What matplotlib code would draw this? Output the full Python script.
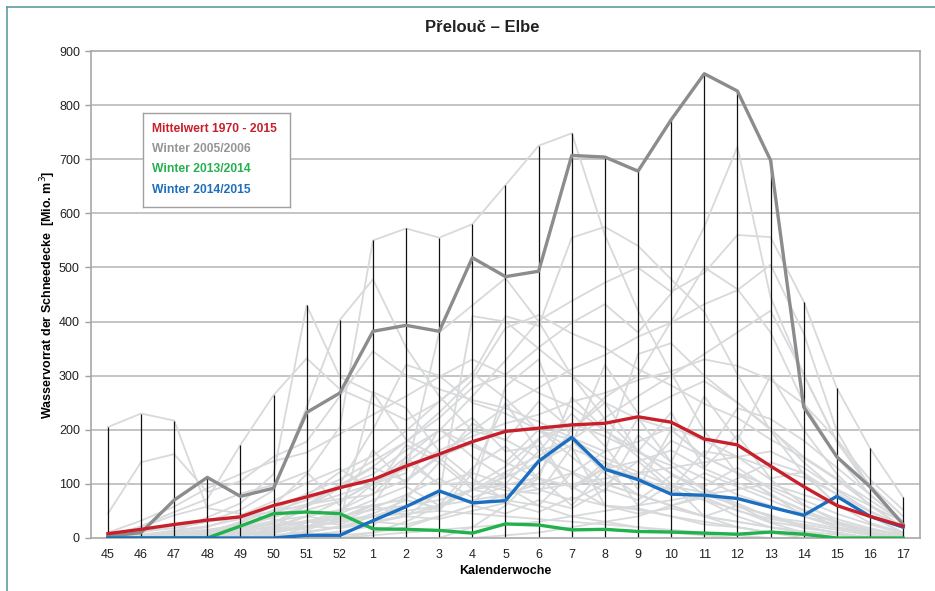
import numpy as np
import matplotlib
matplotlib.use("Agg")
import matplotlib.pyplot as plt
from matplotlib.lines import Line2D

plt.rcParams['font.family'] = ['Liberation Sans', 'DejaVu Sans']

weeks = ['45', '46', '47', '48', '49', '50', '51', '52', '1', '2', '3', '4', '5',
         '6', '7', '8', '9', '10', '11', '12', '13', '14', '15', '16', '17']

mean_1970_2015 = [8, 16, 25, 33, 39, 60, 76, 93, 108, 133, 155, 178, 197, 203, 209,
                  212, 224, 214, 183, 172, 133, 95, 60, 40, 22]
winter_2005_2006 = [3, 10, 70, 112, 77, 92, 232, 268, 382, 393, 382, 518, 483, 493, 707,
                    704, 678, 773, 858, 826, 698, 242, 150, 95, 25]
winter_2013_2014 = [0, 0, 0, 0, 22, 45, 48, 45, 17, 16, 14, 9, 26, 24, 15, 16, 12, 11,
                    9, 7, 11, 7, 0, 0, 0]
winter_2014_2015 = [0, 0, 0, 0, 0, 0, 5, 5, 32, 58, 87, 65, 69, 142, 186, 127, 108, 81,
                    79, 73, 57, 42, 77, 40, 20]

# other winters 1970 - 2015 (light grey background lines, estimated)
other_winters = [
    [205, 230, 217, 55, 45, 35, 20, 45, 70, 95, 60, 130, 170, 110, 95, 60, 55, 40, 25, 20, 10, 5, 0, 0, 0],
    [45, 140, 155, 85, 105, 150, 178, 262, 345, 300, 275, 255, 240, 215, 185, 160, 178, 205, 180, 150, 108, 62, 30, 12, 0],
    [0, 22, 48, 72, 172, 264, 332, 275, 248, 218, 252, 305, 258, 198, 182, 148, 122, 96, 84, 58, 42, 22, 8, 0, 0],
    [0, 0, 12, 38, 64, 118, 430, 298, 268, 182, 148, 96, 132, 184, 212, 188, 158, 134, 88, 64, 38, 30, 18, 8, 0],
    [0, 12, 18, 30, 52, 88, 242, 403, 478, 352, 262, 198, 182, 148, 122, 98, 142, 162, 128, 102, 78, 52, 28, 10, 0],
    [0, 0, 0, 10, 30, 60, 118, 205, 550, 572, 555, 580, 652, 725, 748, 560, 420, 305, 198, 118, 82, 40, 20, 8, 0],
    [0, 0, 0, 0, 18, 42, 78, 122, 152, 198, 252, 302, 410, 392, 555, 575, 540, 478, 418, 302, 198, 118, 62, 28, 10],
    [0, 0, 0, 0, 12, 28, 62, 98, 132, 178, 222, 278, 302, 352, 398, 432, 380, 452, 575, 723, 445, 302, 178, 98, 40],
    [0, 0, 0, 12, 22, 38, 58, 92, 118, 162, 198, 262, 328, 402, 438, 472, 500, 455, 490, 560, 556, 437, 277, 166, 75],
    [0, 0, 6, 12, 28, 52, 82, 108, 142, 178, 232, 292, 388, 412, 378, 352, 312, 282, 248, 222, 182, 148, 108, 62, 18],
    [10, 32, 58, 92, 118, 142, 158, 192, 228, 262, 298, 330, 302, 268, 242, 198, 162, 118, 92, 58, 42, 18, 10, 0, 0],
    [0, 0, 0, 0, 0, 8, 28, 52, 82, 108, 152, 198, 242, 278, 312, 338, 372, 398, 432, 458, 505, 378, 198, 92, 28],
    [0, 0, 0, 6, 16, 28, 52, 68, 102, 128, 162, 188, 212, 228, 252, 268, 292, 308, 330, 318, 292, 248, 182, 108, 52],
    [0, 5, 12, 20, 42, 68, 102, 128, 88, 172, 140, 212, 180, 252, 200, 250, 160, 232, 130, 190, 110, 122, 60, 40, 10],
    [0, 0, 0, 0, 5, 12, 22, 38, 62, 150, 98, 122, 250, 160, 182, 120, 222, 140, 262, 180, 300, 200, 118, 60, 20],
    [5, 20, 42, 58, 82, 98, 122, 60, 162, 100, 202, 150, 110, 182, 90, 140, 60, 100, 40, 60, 30, 20, 10, 0, 0],
    [0, 0, 0, 0, 0, 0, 5, 12, 22, 80, 50, 120, 100, 160, 230, 170, 90, 200, 150, 240, 220, 180, 130, 80, 30],
    [0, 0, 5, 10, 18, 32, 40, 52, 60, 72, 140, 90, 98, 112, 60, 128, 142, 90, 160, 150, 128, 112, 82, 48, 22],
    [0, 10, 22, 30, 40, 48, 62, 72, 80, 140, 100, 102, 88, 82, 168, 60, 52, 40, 30, 20, 10, 5, 0, 0, 0],
    [0, 0, 0, 0, 10, 22, 40, 68, 102, 140, 182, 222, 160, 170, 90, 130, 112, 88, 70, 52, 28, 10, 0, 0, 0],
    [0, 0, 0, 5, 12, 20, 32, 40, 52, 60, 70, 90, 112, 140, 172, 320, 230, 262, 290, 250, 202, 140, 88, 50, 22],
    [0, 0, 0, 0, 0, 5, 10, 22, 30, 42, 60, 88, 122, 152, 182, 222, 262, 300, 340, 380, 420, 302, 178, 92, 30],
    [0, 0, 0, 0, 5, 10, 20, 30, 270, 240, 160, 110, 70, 60, 40, 30, 20, 10, 5, 0, 0, 0, 0, 0, 0],
    [0, 0, 0, 0, 0, 0, 0, 0, 10, 30, 60, 90, 280, 330, 180, 120, 80, 60, 40, 30, 20, 10, 0, 0, 0],
    [0, 0, 0, 0, 0, 0, 10, 20, 40, 60, 80, 410, 400, 350, 300, 250, 220, 200, 150, 120, 80, 50, 20, 10, 0],
    [0, 0, 0, 0, 0, 0, 0, 5, 10, 20, 40, 60, 80, 100, 120, 160, 340, 360, 300, 250, 200, 150, 110, 70, 30],
    [0, 0, 0, 0, 0, 20, 60, 100, 200, 320, 300, 250, 230, 200, 150, 100, 80, 60, 40, 20, 10, 0, 0, 0, 0],
    [0, 0, 0, 10, 20, 40, 60, 80, 100, 120, 380, 430, 480, 400, 300, 220, 160, 120, 80, 60, 40, 20, 10, 0, 0],
    [0, 0, 0, 0, 0, 0, 0, 0, 0, 0, 0, 20, 60, 120, 200, 260, 300, 400, 500, 460, 380, 250, 150, 80, 30],
    [0, 0, 0, 0, 5, 10, 20, 30, 40, 50, 60, 70, 80, 90, 100, 110, 120, 130, 140, 150, 160, 130, 90, 60, 30],
    [0, 0, 0, 0, 0, 0, 0, 0, 5, 10, 15, 20, 25, 30, 40, 50, 60, 70, 80, 90, 100, 80, 60, 40, 20],
    [0, 0, 0, 0, 0, 0, 0, 0, 0, 0, 0, 0, 5, 10, 20, 30, 40, 60, 80, 110, 140, 120, 80, 40, 10],
    [0, 5, 10, 15, 20, 25, 30, 35, 40, 45, 50, 45, 40, 35, 30, 25, 20, 15, 10, 5, 0, 0, 0, 0, 0],
    [0, 0, 0, 0, 0, 0, 20, 50, 100, 150, 200, 170, 140, 110, 260, 200, 150, 100, 70, 40, 20, 10, 0, 0, 0],
    [0, 0, 0, 0, 8, 15, 30, 25, 45, 70, 55, 90, 75, 110, 95, 130, 105, 85, 120, 95, 70, 45, 30, 15, 5],
    [0, 0, 2, 6, 12, 20, 15, 35, 60, 40, 85, 65, 120, 90, 70, 100, 80, 60, 75, 50, 35, 25, 15, 5, 0],
    [0, 3, 8, 15, 25, 18, 40, 30, 55, 80, 110, 75, 95, 60, 120, 85, 190, 140, 110, 80, 60, 40, 25, 10, 3],
    [0, 0, 0, 0, 0, 5, 12, 20, 30, 25, 40, 60, 45, 70, 55, 90, 70, 115, 95, 130, 90, 60, 35, 18, 6],
    [0, 0, 0, 3, 8, 14, 22, 18, 28, 40, 35, 50, 65, 48, 75, 60, 45, 55, 40, 30, 20, 12, 6, 2, 0],
    [2, 6, 14, 22, 35, 50, 70, 95, 130, 105, 150, 175, 140, 200, 165, 140, 115, 180, 150, 120, 95, 70, 45, 25, 8],
]

fig = plt.figure(figsize=(9.35, 5.91), dpi=100)
ax = fig.add_axes([91 / 935, 1 - 538 / 591, (920 - 91) / 935, (538 - 51) / 591])

x = np.arange(len(weeks))

# grid
for yv in range(100, 900, 100):
    ax.axhline(yv, color='#b4b4b4', lw=1.1, zorder=0)

for s in other_winters:
    ax.plot(x, s, color='#d8d9db', lw=1.3, zorder=1)

all_series = np.array(other_winters + [winter_2005_2006, winter_2013_2014, winter_2014_2015])
maxima = all_series.max(axis=0)
ax.vlines(x, 0, maxima, color='#111111', lw=0.9, zorder=2)

ax.plot(x, winter_2005_2006, color='#8c8c8e', lw=2.4, zorder=3)
ax.plot(x, winter_2013_2014, color='#22b14c', lw=2.4, zorder=4)
ax.plot(x, winter_2014_2015, color='#1c6fc0', lw=2.4, zorder=5)
ax.plot(x, mean_1970_2015, color='#c8202a', lw=2.4, zorder=6)

ax.set_xlim(-0.51, 24.51)
ax.set_ylim(0, 900)
ax.set_yticks(range(0, 901, 100))
ax.set_xticks(x)
ax.set_xticklabels(weeks)
ax.tick_params(axis='x', length=0, pad=8, labelsize=9, colors='#222222')
ax.tick_params(axis='y', length=4, width=1, color='#a0a0a0', pad=4, labelsize=9,
               labelcolor='#222222')
for sp in ax.spines.values():
    sp.set_color('#a8a8a8')
    sp.set_linewidth(1.2)

ax.set_xlabel('Kalenderwoche', fontsize=9, fontweight='bold', labelpad=3)
ax.set_ylabel('Wasservorrat der Schneedecke  [Mio. m$^3$]', fontsize=9,
              fontweight='bold', labelpad=1)

fig.text(482 / 935, 1 - 27 / 591, 'Přelouč – Elbe', ha='center', va='center',
         fontsize=12, fontweight='bold', color='#222222')

# legend box
leg_ax = fig.add_axes([143 / 935, 1 - 207 / 591, (290 - 143) / 935, (207 - 113) / 591])
leg_ax.set_xticks([])
leg_ax.set_yticks([])
leg_ax.set_zorder(10)
for sp in leg_ax.spines.values():
    sp.set_color('#a0a0a0')
    sp.set_linewidth(1.0)
leg_items = [('Mittelwert 1970 - 2015', '#c8202a'), ('Winter 2005/2006', '#959595'),
             ('Winter 2013/2014', '#25b050'), ('Winter 2014/2015', '#1f6fba')]
for i, (t, c) in enumerate(leg_items):
    leg_ax.text(0.06, 0.83 - i * 0.215, t, color=c, fontsize=8.7, fontweight='bold',
                ha='left', va='center', transform=leg_ax.transAxes)

# outer teal frame lines
fig.add_artist(Line2D([7 / 935, 7 / 935], [0, 1 - 7 / 591], color='#5b9ea3', lw=1.2))
fig.add_artist(Line2D([7 / 935, 1], [1 - 7 / 591, 1 - 7 / 591], color='#5b9ea3', lw=1.2))

fig.savefig('out.png', dpi=100)
